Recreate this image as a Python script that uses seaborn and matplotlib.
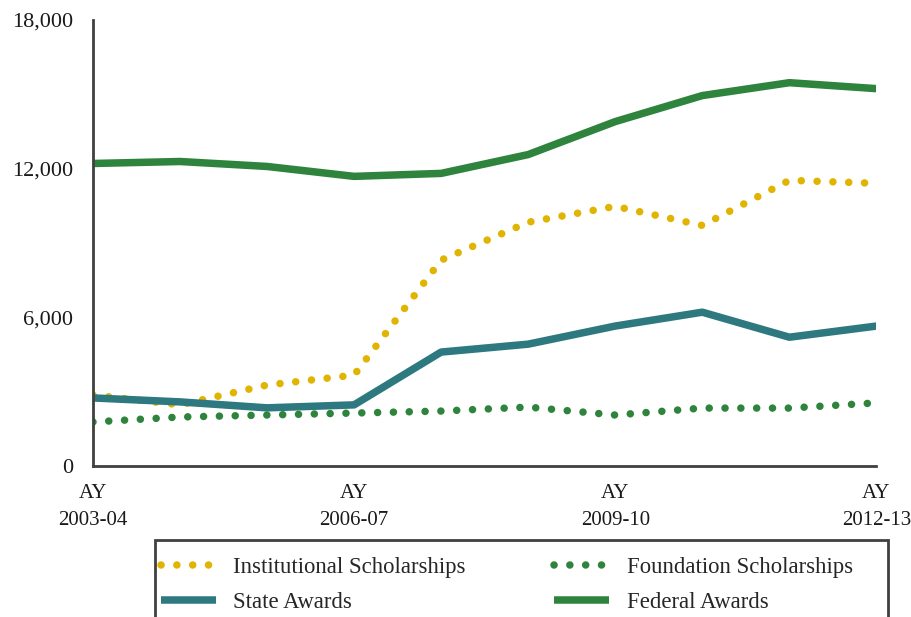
import pandas as pd
import numpy as np
import matplotlib.pyplot as plt
import seaborn as sns
from matplotlib.patches import Rectangle

years = ["2003-04", "2004-05", "2005-06", "2006-07", "2007-08",
         "2008-09", "2009-10", "2010-11", "2011-12", "2012-13"]
tick_labels = ["AY\n2003-04", "", "", "AY\n2006-07", "", "",
               "AY\n2009-10", "", "", "AY\n2012-13"]

institutional = [2860, 2460, 3260, 3660, 8300, 9830, 10470, 9700, 11520, 11400]
foundation = [1770, 1970, 2050, 2130, 2210, 2370, 2050, 2330, 2330, 2540]
state = [2740, 2580, 2340, 2460, 4590, 4910, 5640, 6200, 5190, 5640]
federal = [12200, 12280, 12080, 11680, 11800, 12560, 13890, 14940, 15460, 15220]

series_names = ["Institutional Scholarships", "Foundation Scholarships",
                "State Awards", "Federal Awards"]

df = pd.DataFrame({"year": np.arange(len(years))})
df[series_names[0]] = institutional
df[series_names[1]] = foundation
df[series_names[2]] = state
df[series_names[3]] = federal
long = df.melt(id_vars="year", var_name="series", value_name="value")

sns.set_style("white")
plt.rcParams["font.family"] = ["Liberation Serif", "DejaVu Serif"]

fig = plt.figure(figsize=(9.11, 6.17), dpi=100)
ax = fig.add_axes([0.102, 0.245, 0.860, 0.723])

styles = {
    "Institutional Scholarships": dict(color="#E0B400", ls=(0, (0.01, 2.1)), lw=5.4),
    "Foundation Scholarships": dict(color="#2E843C", ls=(0, (0.01, 2.1)), lw=5.4),
    "State Awards": dict(color="#2E7880", ls="-", lw=5.4),
    "Federal Awards": dict(color="#2E843C", ls="-", lw=5.4),
}

for name in series_names:
    st = styles[name]
    sub = long[long["series"] == name]
    sns.lineplot(data=sub, x="year", y="value", ax=ax, color=st["color"],
                 linestyle=st["ls"], linewidth=st["lw"], label=name,
                 dash_capstyle="round", solid_capstyle="butt", legend=False)

ax.set_xlim(0, len(years) - 1)
ax.set_ylim(0, 18000)
ax.set_yticks([0, 6000, 12000, 18000])
ax.set_yticklabels(["0", "6,000", "12,000", "18,000"], fontsize=16)
ax.set_xticks(np.arange(len(years)))
ax.set_xticklabels(tick_labels, fontsize=15, linespacing=1.6)
ax.tick_params(axis="y", length=0, pad=14, colors="#1a1a1a")
ax.tick_params(axis="x", length=0, pad=13, colors="#1a1a1a")
ax.set_xlabel("")
ax.set_ylabel("")

for side in ["top", "right"]:
    ax.spines[side].set_visible(False)
for side in ["left", "bottom"]:
    ax.spines[side].set_color("#404040")
    ax.spines[side].set_linewidth(2)

# row-major order like the original legend
handles, labels = ax.get_legend_handles_labels()
order = [0, 2, 1, 3]
leg = fig.legend([handles[i] for i in order], [labels[i] for i in order],
                 ncol=2, loc="upper left",
                 bbox_to_anchor=(156 / 911, 1 - 552 / 617),
                 frameon=False, fontsize=16.4,
                 handlelength=2.45, handletextpad=0.75, borderpad=0.2,
                 labelspacing=0.62, columnspacing=3.85, borderaxespad=0)

# legend box, cut off by the bottom edge as in the original
top = 1 - 540 / 617
fig.patches.append(Rectangle((155 / 911, -0.05), (888 - 155) / 911, top + 0.05,
                             transform=fig.transFigure, fill=False,
                             edgecolor="#404040", linewidth=2))

fig.savefig("out.png", dpi=100)
